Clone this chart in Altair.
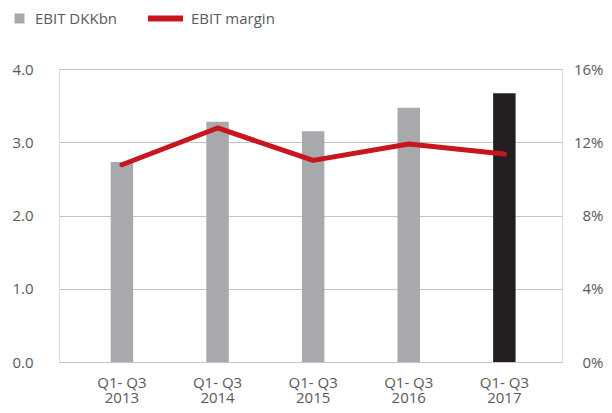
import altair as alt
import pandas as pd

years = ["2013", "2014", "2015", "2016", "2017"]
ebit_dkkbn = [2.73, 3.28, 3.15, 3.47, 3.67]
ebit_margin = [10.77, 12.78, 11.01, 11.9, 11.36]
bar_kind = ["EBIT DKKbn", "EBIT DKKbn", "EBIT DKKbn", "EBIT DKKbn", "2017"]
line_series = ["EBIT margin"] * 5
left_ticks = [0, 1, 2, 3, 4]
right_ticks = [0, 4, 8, 12, 16]

df = pd.DataFrame({
    "year": years,
    "ebit": ebit_dkkbn,
    "margin": ebit_margin,
    "kind": bar_kind,
    "series": line_series,
})

FONT = "Open Sans"
TXT = "#58595b"
GRID = "#c4c4c4"

x = alt.X(
    "year:O",
    sort=years,
    scale=alt.Scale(paddingInner=0.765, paddingOuter=0.513, align=0.527),
    axis=alt.Axis(
        title=None, domain=False, ticks=False, labelAngle=0,
        labelExpr="['Q1- Q3', datum.label]", labelPadding=13,
        labelLineHeight=15, labelFontSize=15, labelColor=TXT, labelFont=FONT,
    ),
)

base = alt.Chart(df)

bars = base.mark_bar().encode(
    x=x,
    y=alt.Y(
        "ebit:Q",
        scale=alt.Scale(domain=[0, 4]),
        axis=alt.Axis(
            title=None, values=left_ticks, format=".1f", domain=False, ticks=False,
            labelPadding=26, labelFontSize=15, labelColor=TXT, labelFont=FONT,
            grid=True, gridColor=GRID, gridWidth=1.2,
        ),
    ),
    color=alt.Color(
        "kind:N",
        scale=alt.Scale(domain=["EBIT DKKbn", "2017"], range=["#a7a9ac", "#231f20"]),
        legend=alt.Legend(
            title=None, values=["EBIT DKKbn"], orient="none", legendX=-47, legendY=-58,
            symbolType="square", symbolSize=100, labelOffset=8, padding=0,
            labelFontSize=15, labelColor=TXT, labelFont=FONT,
        ),
    ),
)

line = base.mark_line(strokeWidth=5, strokeCap="round", strokeJoin="round").encode(
    x=x,
    y=alt.Y(
        "margin:Q",
        scale=alt.Scale(domain=[0, 16]),
        axis=alt.Axis(
            title=None, orient="right", values=right_ticks, labelExpr="datum.value + '%'",
            domain=False, ticks=False, grid=False, labelAlign="right", labelPadding=41,
            labelFontSize=15, labelColor=TXT, labelFont=FONT,
        ),
    ),
    stroke=alt.Stroke(
        "series:N",
        scale=alt.Scale(domain=["EBIT margin"], range=["#c8161e"]),
        legend=alt.Legend(
            title=None, orient="none", legendX=86, legendY=-71,
            symbolType="stroke", symbolSize=1225, symbolStrokeWidth=6,
            labelOffset=5, padding=0,
            labelFontSize=15, labelColor=TXT, labelFont=FONT,
        ),
    ),
)

chart = (
    alt.layer(bars, line)
    .resolve_scale(y="independent")
    .properties(
        width=503, height=293,
        autosize=alt.AutoSizeParams(type="none"),
        padding={"left": 51, "top": 61, "right": 42, "bottom": 43},
    )
    .configure_view(stroke=None)
    .configure(font=FONT)
)

chart.save("out.html", embed_options={"renderer": "svg", "actions": False})
